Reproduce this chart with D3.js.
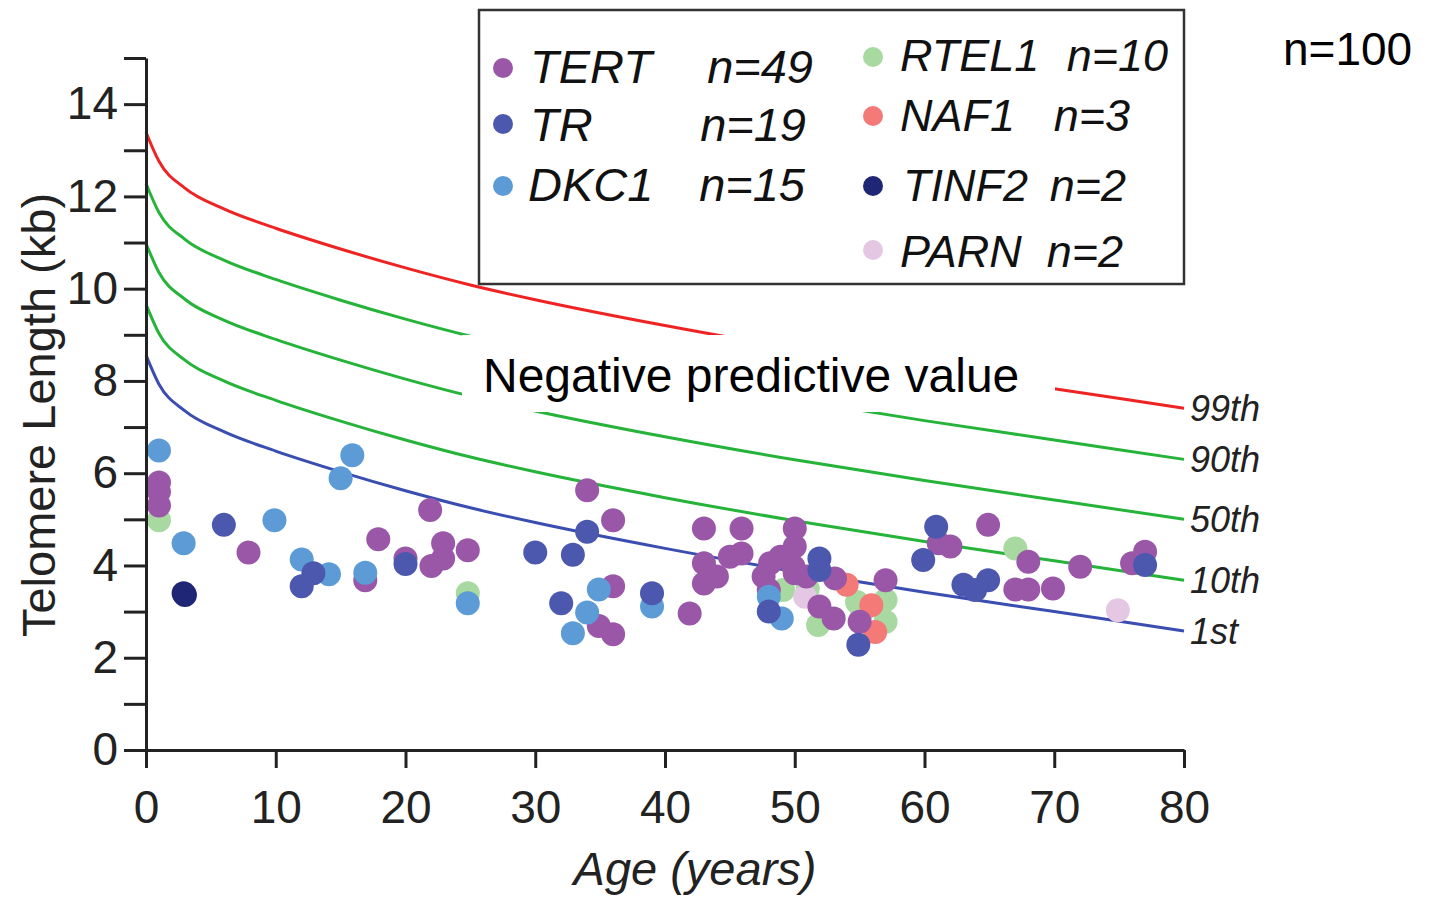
<!DOCTYPE html>
<html>
<head>
<meta charset="utf-8">
<script src="https://cdn.jsdelivr.net/npm/d3@7"></script>
<style>
  body { margin: 0; background: #fff; }
  svg { display: block; font-family: "Liberation Sans", Arial, sans-serif; }
</style>
</head>
<body>
<div id="chart"></div>
<script>
// percentile curves (kb)
var pctAges = [0, 1, 3, 6, 10, 15, 20, 25, 30, 40, 50, 60, 70, 80];
var p99 = [13.39, 12.76, 12.18, 11.73, 11.31, 10.86, 10.45, 10.08, 9.76, 9.20, 8.70, 8.25, 7.83, 7.41];
var p90 = [12.28, 11.65, 11.07, 10.62, 10.20, 9.75, 9.34, 8.97, 8.65, 8.09, 7.59, 7.14, 6.72, 6.30];
var p50 = [10.98, 10.35, 9.77, 9.32, 8.90, 8.45, 8.04, 7.67, 7.35, 6.79, 6.29, 5.84, 5.42, 5.00];
var p10 = [9.66, 9.03, 8.45, 8.00, 7.58, 7.13, 6.72, 6.35, 6.03, 5.47, 4.97, 4.52, 4.10, 3.68];
var p1  = [8.56, 7.93, 7.35, 6.90, 6.48, 6.03, 5.62, 5.25, 4.93, 4.37, 3.87, 3.42, 3.00, 2.58];
var pctLabels = ['99th', '90th', '50th', '10th', '1st'];

// patients: [age, telomere length]
var rtel1 = [[1, 4.98], [24.8, 3.40], [49.1, 3.47], [51.0, 3.50], [51.8, 2.71], [54.8, 3.21],
             [57.0, 3.25], [57.0, 2.78], [67.0, 4.37], [55.2, 3.00]];
var parn = [[50.8, 3.32], [74.9, 3.03]];
var naf1 = [[54.0, 3.58], [55.9, 3.14], [56.2, 2.56]];
var tert = [[1, 5.80], [1, 5.60], [1, 5.30], [7.9, 4.28], [16.9, 3.68], [17.9, 4.57], [20.0, 4.15],
            [21.9, 5.20], [22.9, 4.48], [22.9, 4.15], [22.0, 3.99], [24.8, 4.33], [34.0, 5.63],
            [36.0, 4.98], [36.0, 3.55], [34.9, 2.69], [36.0, 2.51], [41.9, 2.96], [43.0, 4.80],
            [45.9, 4.80], [43.0, 4.05], [43.0, 3.61], [44.0, 3.76], [45.0, 4.19], [45.9, 4.26],
            [50.0, 4.80], [50.0, 4.41], [48.9, 4.19], [48.1, 4.05], [49.9, 3.97], [50.0, 3.83],
            [50.9, 3.76], [48.0, 3.47], [53.1, 3.72], [51.9, 3.11], [53.0, 2.85], [55.0, 2.78],
            [57.0, 3.68], [61.1, 4.48], [62.0, 4.41], [64.9, 4.88], [68.0, 4.08], [67.0, 3.48],
            [68.0, 3.48], [69.9, 3.50], [72.0, 3.97], [76.0, 4.05], [77.0, 4.30], [47.6, 3.76]];
var dkc1 = [[1, 6.49], [2.9, 4.48], [9.9, 4.98], [15.9, 6.39], [15.0, 5.89], [12.0, 4.13],
            [14.1, 3.81], [16.9, 3.84], [24.8, 3.18], [34.9, 3.48], [34.0, 2.98], [32.9, 2.53],
            [39.0, 3.11], [48.0, 3.32], [49.0, 2.85]];
var tr = [[6.0, 4.88], [12.9, 3.83], [12.0, 3.55], [20.0, 4.03], [34.0, 4.73], [30.0, 4.28],
          [32.9, 4.23], [32.0, 3.18], [39.0, 3.40], [48.0, 3.00], [51.9, 4.15], [51.9, 3.90],
          [54.9, 2.28], [59.9, 4.12], [60.9, 4.84], [63.0, 3.58], [63.9, 3.47], [64.9, 3.68],
          [77.0, 4.01]];
var tinf2 = [[2.9, 3.40], [3.0, 3.36]];

var legendNames = ['TERT', 'TR', 'DKC1', 'RTEL1', 'NAF1', 'TINF2', 'PARN'];
var legendCounts = ['n=49', 'n=19', 'n=15', 'n=10', 'n=3', 'n=2', 'n=2'];

var colors = {
  TERT: '#9a57a8', TR: '#4c57ae', DKC1: '#5c9bd6', RTEL1: '#a7d9a1',
  NAF1: '#f37a76', TINF2: '#1f2676', PARN: '#e4c7e2'
};

var width = 1431, height = 897;
var svg = d3.select('#chart').append('svg')
  .attr('width', width)
  .attr('height', height);

svg.append('rect').attr('width', width).attr('height', height).attr('fill', '#fff');

var x = d3.scaleLinear().domain([0, 80]).range([146, 1184]);
var y = d3.scaleLinear().domain([0, 15]).range([750, 58]);

// percentile curves
var line = d3.line()
  .x(function (d) { return x(d[0]); })
  .y(function (d) { return y(d[1]); })
  .curve(d3.curveMonotoneX);

var curves = [p99, p90, p50, p10, p1];
var curveColors = ['#ee2424', '#25b33a', '#25b33a', '#25b33a', '#3a4db0'];

curves.forEach(function (vals, i) {
  var pts = pctAges.map(function (a, j) { return [a, vals[j]]; });
  svg.append('path')
    .attr('d', line(pts))
    .attr('fill', 'none')
    .attr('stroke', curveColors[i])
    .attr('stroke-width', 3);
  svg.append('text')
    .attr('x', 1190)
    .attr('y', y(vals[vals.length - 1]) + 13)
    .attr('font-size', 36)
    .attr('font-style', 'italic')
    .attr('fill', '#222')
    .text(pctLabels[i]);
});

// points
var groups = [
  ['RTEL1', rtel1], ['PARN', parn], ['NAF1', naf1], ['TERT', tert],
  ['DKC1', dkc1], ['TR', tr], ['TINF2', tinf2]
];
groups.forEach(function (g) {
  svg.append('g').selectAll('circle')
    .data(g[1])
    .enter()
    .append('circle')
    .attr('cx', function (d) { return x(d[0]); })
    .attr('cy', function (d) { return y(d[1]); })
    .attr('r', 12)
    .attr('fill', colors[g[0]]);
});

// negative predictive value label on a white patch
svg.append('rect')
  .attr('x', 462).attr('y', 335)
  .attr('width', 593).attr('height', 77)
  .attr('fill', '#fff');
svg.append('text')
  .attr('x', 483).attr('y', 392)
  .attr('font-size', 48)
  .attr('fill', '#000')
  .text('Negative predictive value');

// axes
var yAxis = d3.axisLeft(y)
  .tickValues(d3.range(0, 16, 1))
  .tickFormat(function (d) { return d % 2 === 0 && d <= 14 ? d : ''; })
  .tickSize(22)
  .tickSizeOuter(0)
  .tickPadding(6);

var gy = svg.append('g')
  .attr('transform', 'translate(146,0)')
  .call(yAxis);
gy.selectAll('text').attr('font-size', 46).attr('fill', '#222');

var xAxis = d3.axisBottom(x)
  .tickValues(d3.range(0, 81, 10))
  .tickSize(18)
  .tickSizeOuter(0)
  .tickPadding(22);

var gx = svg.append('g')
  .attr('transform', 'translate(0,750)')
  .call(xAxis);
gx.selectAll('text').attr('font-size', 46).attr('fill', '#222');

svg.selectAll('.domain, .tick line')
  .attr('stroke', '#222')
  .attr('stroke-width', 3);

// axis titles
svg.append('text')
  .attr('transform', 'translate(55,415) rotate(-90)')
  .attr('text-anchor', 'middle')
  .attr('font-size', 47)
  .attr('fill', '#222')
  .text('Telomere Length (kb)');

svg.append('text')
  .attr('x', 695).attr('y', 885)
  .attr('text-anchor', 'middle')
  .attr('font-size', 47)
  .attr('font-style', 'italic')
  .attr('fill', '#222')
  .text('Age (years)');

// legend
svg.append('rect')
  .attr('x', 479).attr('y', 10)
  .attr('width', 705).attr('height', 274)
  .attr('fill', '#fff')
  .attr('stroke', '#333')
  .attr('stroke-width', 2.5);

// dot centre, name start, count end, baseline
var legendPos = [
  { dx: 503, dy: 68, tx: 530, nx: 813, ty: 83 },
  { dx: 503, dy: 124, tx: 530, nx: 806, ty: 141 },
  { dx: 503, dy: 186, tx: 528, nx: 805, ty: 201 },
  { dx: 873, dy: 57, tx: 900, nx: 1168, ty: 71 },
  { dx: 873, dy: 116, tx: 900, nx: 1130, ty: 131 },
  { dx: 873, dy: 186, tx: 903, nx: 1126, ty: 201 },
  { dx: 873, dy: 250, tx: 900, nx: 1123, ty: 267 }
];

legendNames.forEach(function (name, i) {
  var p = legendPos[i];
  var fs = i < 3 ? 47 : 45;
  svg.append('circle')
    .attr('cx', p.dx).attr('cy', p.dy).attr('r', 10)
    .attr('fill', colors[name]);
  svg.append('text')
    .attr('x', p.tx).attr('y', p.ty)
    .attr('font-size', fs).attr('font-style', 'italic').attr('fill', '#111')
    .text(name);
  svg.append('text')
    .attr('x', p.nx).attr('y', p.ty)
    .attr('text-anchor', 'end')
    .attr('font-size', fs).attr('font-style', 'italic').attr('fill', '#111')
    .text(legendCounts[i]);
});

svg.append('text')
  .attr('x', 1283).attr('y', 65)
  .attr('font-size', 46)
  .attr('fill', '#000')
  .text('n=100');
</script>
</body>
</html>
